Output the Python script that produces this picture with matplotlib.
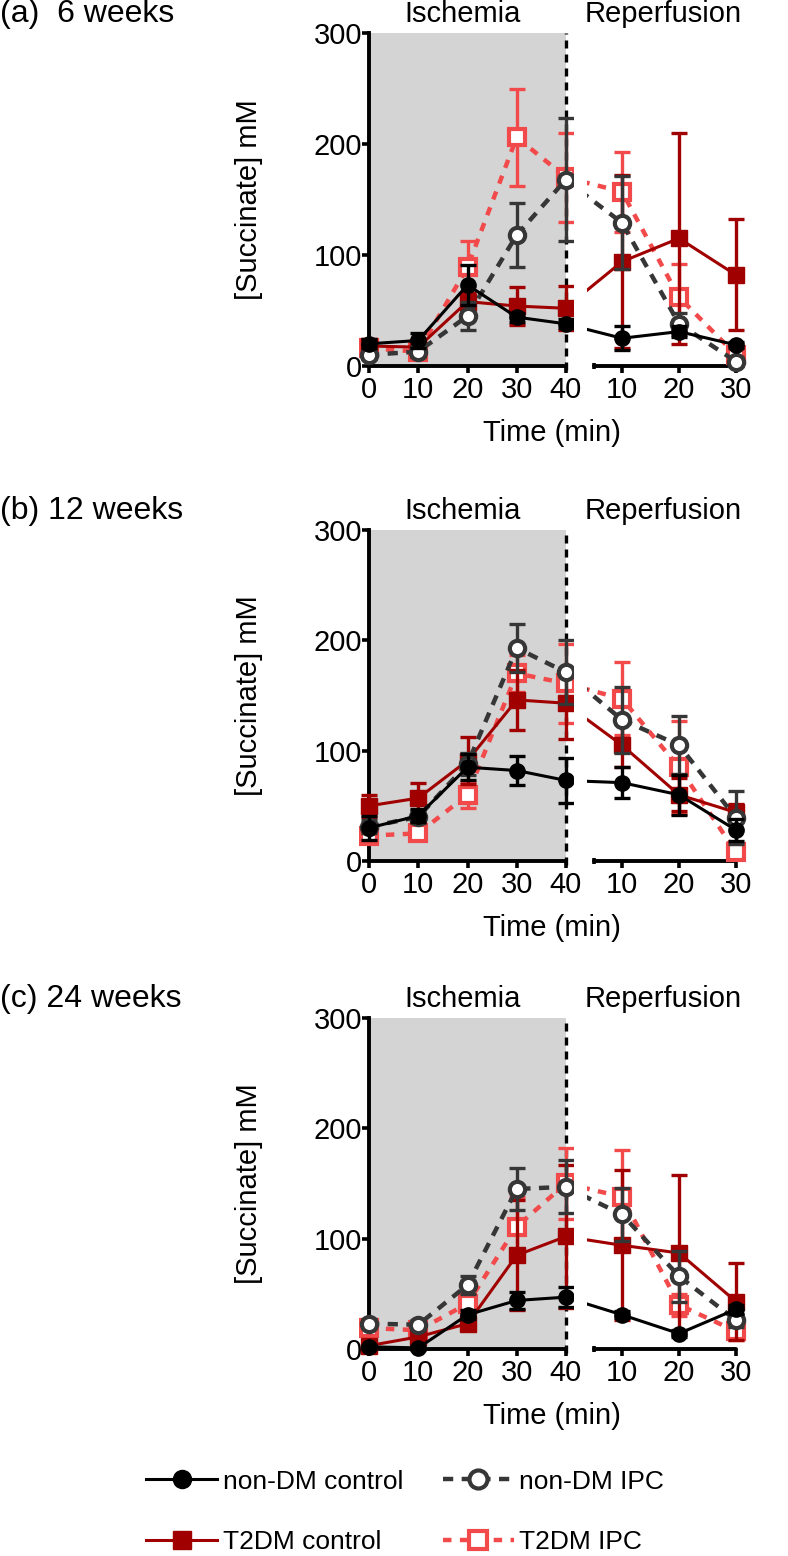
import matplotlib
matplotlib.use('Agg')
from matplotlib import pyplot as plt
from matplotlib.lines import Line2D

plt.rcParams['font.family'] = ['Liberation Sans', 'DejaVu Sans']
FS = 21

# time points; reperfusion time 0 is the end of ischemia (40 min)
t_isch = [0, 10, 20, 30, 40]
t_rep = [10, 20, 30]

names = ['non-DM control', 'non-DM IPC', 'T2DM control', 'T2DM IPC']
panel_labels = ['(a)  6 weeks', '(b) 12 weeks', '(c) 24 weeks']

# values: ischemia 0,10,20,30,40 then reperfusion 10,20,30  (mM)
w6_ndm_ctrl = [20, 23, 73, 44, 38, 25, 31, 19]
w6_ndm_ctrl_err = [4, 7, 18, 4, 4, 11, 5, 3]
w6_ndm_ipc = [10, 13, 45, 118, 168, 129, 38, 4]
w6_ndm_ipc_err = [4, 5, 13, 29, 55, 42, 10, 4]
w6_t2_ctrl = [18, 17, 58, 54, 52, 94, 115, 82]
w6_t2_ctrl_err = [5, 5, 8, 17, 20, 78, 95, 50]
w6_t2_ipc = [16, 13, 89, 206, 170, 157, 62, 10]
w6_t2_ipc_err = [5, 4, 24, 44, 40, 36, 30, 5]

w12_ndm_ctrl = [30, 41, 85, 82, 73, 71, 60, 28]
w12_ndm_ctrl_err = [11, 6, 12, 13, 20, 14, 18, 10]
w12_ndm_ipc = [31, 40, 88, 193, 171, 128, 105, 39]
w12_ndm_ipc_err = [6, 6, 10, 22, 29, 30, 26, 24]
w12_t2_ctrl = [50, 57, 91, 146, 143, 105, 60, 44]
w12_t2_ctrl_err = [10, 14, 21, 27, 32, 20, 15, 8]
w12_t2_ipc = [23, 25, 60, 170, 161, 147, 85, 8]
w12_t2_ipc_err = [6, 5, 12, 17, 36, 33, 42, 5]

w24_ndm_ctrl = [2, 1, 31, 44, 47, 31, 14, 36]
w24_ndm_ctrl_err = [2, 2, 4, 8, 9, 3, 3, 4]
w24_ndm_ipc = [23, 22, 58, 145, 147, 122, 66, 26]
w24_ndm_ipc_err = [4, 4, 8, 19, 24, 24, 23, 6]
w24_t2_ctrl = [3, 11, 23, 85, 102, 94, 87, 43]
w24_t2_ctrl_err = [3, 4, 5, 50, 65, 68, 71, 35]
w24_t2_ipc = [19, 17, 41, 111, 150, 138, 40, 16]
w24_t2_ipc_err = [5, 4, 10, 27, 32, 42, 10, 8]

panels = [
    [(w6_ndm_ctrl, w6_ndm_ctrl_err), (w6_ndm_ipc, w6_ndm_ipc_err),
     (w6_t2_ctrl, w6_t2_ctrl_err), (w6_t2_ipc, w6_t2_ipc_err)],
    [(w12_ndm_ctrl, w12_ndm_ctrl_err), (w12_ndm_ipc, w12_ndm_ipc_err),
     (w12_t2_ctrl, w12_t2_ctrl_err), (w12_t2_ipc, w12_t2_ipc_err)],
    [(w24_ndm_ctrl, w24_ndm_ctrl_err), (w24_ndm_ipc, w24_ndm_ipc_err),
     (w24_t2_ctrl, w24_t2_ctrl_err), (w24_t2_ipc, w24_t2_ipc_err)],
]

styles = {
    'non-DM control': dict(color='black', marker='o', mfc='black', ls='-', lw=2.2, mew=1),
    'non-DM IPC': dict(color='#363636', marker='o', mfc='white', ls=(0, (2.3, 1.9)), lw=3.2, mew=3),
    'T2DM control': dict(color='#a00000', marker='s', mfc='#a00000', ls='-', lw=2.2, mew=1),
    'T2DM IPC': dict(color='#f24a4a', marker='s', mfc='white', ls=(0, (1.9, 1.9)), lw=3.2, mew=3),
}
draw_order = ['T2DM IPC', 'T2DM control', 'non-DM IPC', 'non-DM control']

W, H = 788, 1556
fig = plt.figure(figsize=(W / 100, H / 100), dpi=100)

# pixel geometry of each panel (y of 0 and 300)
zero_px = [366, 861, 1349]
top_px = [33, 530, 1018]
xl0, xl40 = 369, 566       # ischemia axis pixels for 0 and 40
xr10, xr30 = 622, 736      # reperfusion axis pixels for 10 and 30
lim_l = (-2, 41.5)
lim_r = (3.9, 33)
ylim = (-20, 300)

for i, data in enumerate(panels):
    ys = (zero_px[i] - top_px[i]) / 300.0
    bot = zero_px[i] + 20 * ys
    sl = (xl40 - xl0) / 40.0
    sr = (xr30 - xr10) / 20.0
    lx0 = xl0 + lim_l[0] * sl
    lx1 = xl40 + (lim_l[1] - 40) * sl
    rx0 = xr10 + (lim_r[0] - 10) * sr
    rx1 = xr30 + (lim_r[1] - 30) * sr
    axL = fig.add_axes([lx0 / W, 1 - bot / H, (lx1 - lx0) / W, (bot - top_px[i]) / H])
    axR = fig.add_axes([rx0 / W, 1 - bot / H, (rx1 - rx0) / W, (bot - top_px[i]) / H])

    axL.fill_between([0, 40], 0, 300, color='#d4d4d4', lw=0, zorder=0)
    axL.plot([40, 40], [-4, 300], color='black', lw=2.4, ls=(0, (2.4, 1.8)), zorder=1)

    for name in draw_order:
        vals, errs = data[names.index(name)]
        st = styles[name]
        z = 3 + draw_order.index(name)
        axL.errorbar(t_isch, vals[:5], yerr=errs[:5], fmt='none', ecolor=st['color'],
                     elinewidth=2.4, capsize=6, capthick=2.4, zorder=z)
        axL.plot(t_isch, vals[:5], color=st['color'], ls=st['ls'], lw=st['lw'],
                 marker=st['marker'], ms=11, mfc=st['mfc'], mec=st['color'],
                 mew=st['mew'], zorder=z)
        axR.errorbar(t_rep, vals[5:], yerr=errs[5:], fmt='none', ecolor=st['color'],
                     elinewidth=2.4, capsize=6, capthick=2.4, zorder=z)
        axR.plot([0] + t_rep, [vals[4]] + vals[5:], color=st['color'], ls=st['ls'],
                 lw=st['lw'], zorder=z)
        axR.plot(t_rep, vals[5:], ls='none', marker=st['marker'], ms=11,
                 mfc=st['mfc'], mec=st['color'], mew=st['mew'], zorder=z)

    for ax, lim in [(axL, lim_l), (axR, lim_r)]:
        ax.set_xlim(*lim)
        ax.set_ylim(*ylim)
        ax.patch.set_visible(False)
        ax.spines['top'].set_visible(False)
        ax.spines['right'].set_visible(False)
        ax.spines['bottom'].set_position(('data', 0))
        ax.spines['bottom'].set_linewidth(2.8)
        ax.spines['bottom'].set_capstyle('round')
        ax.tick_params(axis='x', direction='out', length=5, width=2.6, labelsize=FS, pad=2)

    axL.spines['left'].set_position(('data', 0))
    axL.spines['left'].set_bounds(0, 300)
    axL.spines['left'].set_linewidth(2.8)
    axL.spines['bottom'].set_bounds(0, 40)
    axL.set_xticks(t_isch)
    axL.set_yticks([0, 100, 200, 300])
    axL.tick_params(axis='y', direction='out', length=5, width=2.6, labelsize=FS, pad=0)
    axL.set_ylabel('[Succinate] mM', fontsize=FS)
    axL.yaxis.set_label_coords(-0.45, 170 / 320)

    axR.spines['left'].set_visible(False)
    axR.spines['bottom'].set_bounds(5, 30)
    axR.set_yticks([])
    axR.set_xticks(t_rep)
    axR.set_xticks([5], minor=True)
    axR.tick_params(axis='x', which='minor', length=5, width=2.6, direction='inout')

    ty = 1 - (top_px[i] - 19) / H
    fig.text(463 / W, ty, 'Ischemia', fontsize=FS, ha='center', va='center')
    fig.text(663 / W, ty, 'Reperfusion', fontsize=FS, ha='center', va='center')
    fig.text(0.0, ty, panel_labels[i], fontsize=FS + 2, ha='left', va='center')
    fig.text(552 / W, 1 - (zero_px[i] + 67) / H, 'Time (min)', fontsize=FS,
             ha='center', va='center')

handles = []
for name in names:
    st = styles[name]
    handles.append(Line2D([], [], color=st['color'], ls=st['ls'], lw=st['lw'],
                          marker=st['marker'], ms=13, mfc=st['mfc'],
                          mec=st['color'], mew=st['mew']))
leg_order = [0, 2, 1, 3]
fig.legend([handles[k] for k in leg_order], [names[k] for k in leg_order],
           ncol=2, loc='center', bbox_to_anchor=(405 / W, 1 - 1512 / H),
           frameon=False, fontsize=19, handlelength=2.7, handletextpad=0.2,
           columnspacing=1.5, labelspacing=1.4, borderpad=0)

fig.savefig('out.png', dpi=100)
